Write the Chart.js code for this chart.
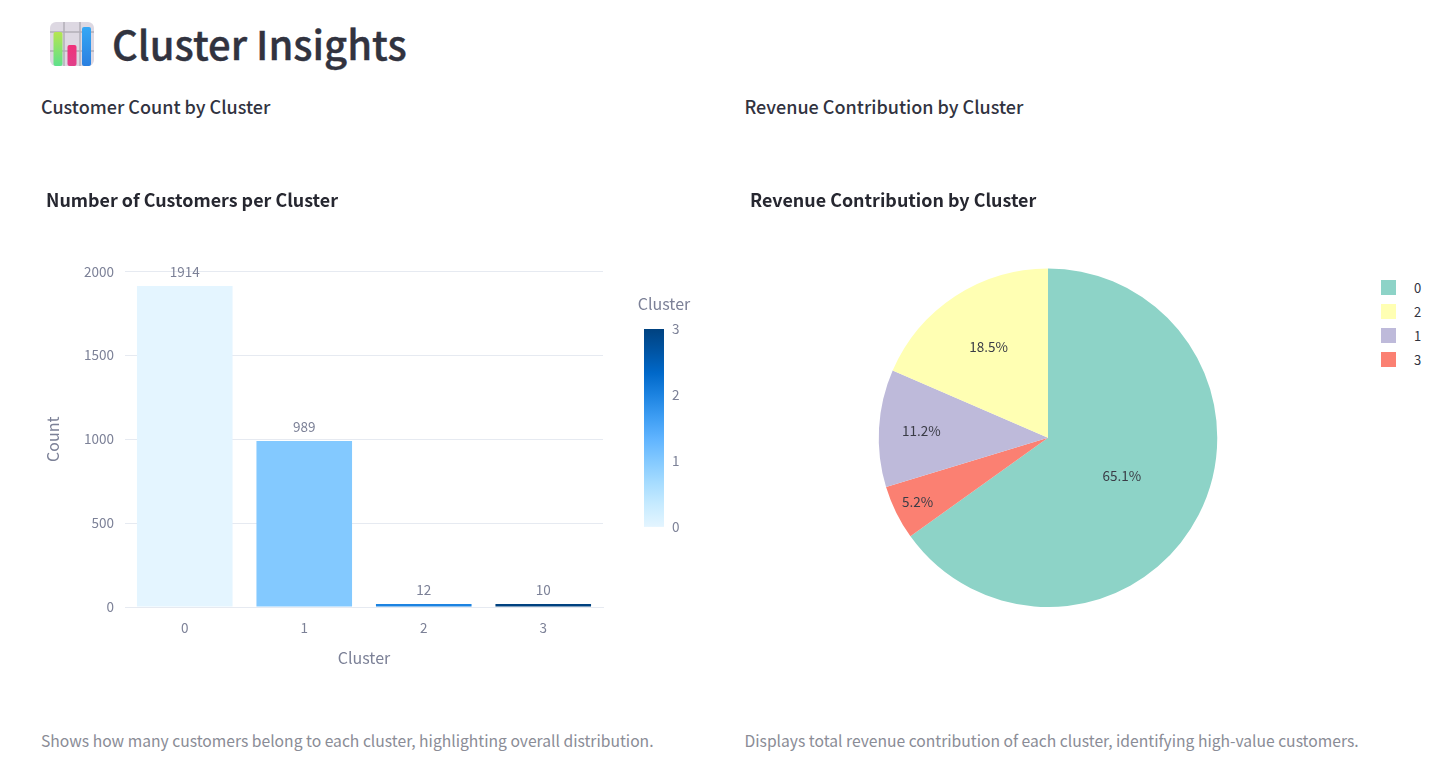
<!DOCTYPE html>
<html>
<head>
<meta charset="utf-8">
<title>Cluster Insights</title>
<script src="https://cdn.jsdelivr.net/npm/chart.js@4"></script>
<style>
  body{margin:0;background:#fff;font-family:"Noto Sans CJK JP","Noto Sans",sans-serif;color:#31333f;overflow:hidden}
  .abs{position:absolute;white-space:nowrap}
  h1{margin:0;font-size:40px;font-weight:500;line-height:56px;-webkit-text-stroke:0.4px #31333f}
  h3{margin:0;font-size:18px;font-weight:500;line-height:24px}
  .cap{font-size:15.67px;line-height:24px;color:#8a8c96}
  canvas{position:absolute}
  #legend{position:absolute;left:1381px;top:275px;font-size:13px}
  .row{display:flex;align-items:center;height:24px;margin-top:0}
  .sw{width:15px;height:15px;margin-right:18px}
</style>
</head>
<body>
<svg class="abs" style="left:50px;top:22px" width="44" height="44" viewBox="0 0 44 44">
  <defs>
    <linearGradient id="g1" x1="0" y1="0" x2="0" y2="1"><stop offset="0" stop-color="#b5e550"/><stop offset="1" stop-color="#5fe08c"/></linearGradient>
    <linearGradient id="g2" x1="0" y1="0" x2="0" y2="1"><stop offset="0" stop-color="#f0307a"/><stop offset="1" stop-color="#e0408a"/></linearGradient>
    <linearGradient id="g3" x1="0" y1="0" x2="0" y2="1"><stop offset="0" stop-color="#35a8f5"/><stop offset="1" stop-color="#2a7fe0"/></linearGradient>
  </defs>
  <rect width="44" height="44" rx="6" fill="#ddd8e2"/>
  <path d="M14 0V44M30 0V44M0 10H44M0 29H44" stroke="#b3aeb8" stroke-width="1.5"/>
  <rect x="3.5" y="10" width="9" height="34" rx="2" fill="url(#g1)"/>
  <rect x="17.5" y="23" width="9" height="21" rx="2" fill="url(#g2)"/>
  <rect x="32" y="5" width="9" height="39" rx="2" fill="url(#g3)"/>
</svg>
<h1 class="abs" style="left:112px;top:15px">Cluster Insights</h1>
<h3 class="abs" style="left:41px;top:94px">Customer Count by Cluster</h3>
<h3 class="abs" style="left:744.5px;top:94px">Revenue Contribution by Cluster</h3>
<canvas id="barChart" style="left:46px;top:189px;width:601px;height:479px"></canvas>
<canvas id="colorBar" style="left:620px;top:290px;width:90px;height:253px"></canvas>
<canvas id="pieChart" style="left:750px;top:189px;width:596px;height:418px"></canvas>
<div id="legend"></div>
<div class="abs cap" style="left:41px;top:729px">Shows how many customers belong to each cluster, highlighting overall distribution.</div>
<div class="abs cap" style="left:744.5px;top:729px">Displays total revenue contribution of each cluster, identifying high-value customers.</div>
<script>
const FONT = '"Noto Sans CJK JP","Noto Sans",sans-serif';
const AXIS = "#7c8197";
const GRID = "#e6eaf1";

const clusters = ["0", "1", "2", "3"];
const customerCounts = [1914, 989, 12, 10];
const barColors = ["#e4f5ff", "#83c9ff", "#1c83e1", "#004280"];
const yTicks = [0, 500, 1000, 1500, 2000];

const colorTicks = [0, 1, 2, 3];
const colorScale = ["#e4f5ff", "#c7ebff", "#a6dcff", "#83c9ff", "#60b4ff", "#3d9df3", "#1c83e1", "#0068c9", "#0054a3", "#004280"];

const pieLabels = ["0", "3", "1", "2"];
const pieShares = [65.1, 5.2, 11.2, 18.5];
const pieColors = ["#8dd3c7", "#fb8072", "#bebada", "#ffffb3"];
const labelRadius = [0.49, 0.86, 0.75, 0.64];
const legendOrder = ["0", "2", "1", "3"];

Chart.defaults.font.family = FONT;
Chart.defaults.animation = false;
Chart.defaults.responsive = false;
Chart.defaults.devicePixelRatio = 1;

function sizeCanvas(id){
  const c = document.getElementById(id);
  c.width = parseInt(c.style.width);
  c.height = parseInt(c.style.height);
  return c;
}

// count labels above the bars
const barLabels = {
  id: "barLabels",
  afterDatasetsDraw(chart){
    const ctx = chart.ctx;
    const meta = chart.getDatasetMeta(0);
    ctx.save();
    ctx.font = "13.5px " + FONT;
    ctx.fillStyle = AXIS;
    ctx.textAlign = "center";
    ctx.textBaseline = "middle";
    meta.data.forEach((bar, i)=>{
      ctx.fillText(customerCounts[i], bar.x, bar.y - 14);
    });
    ctx.restore();
  }
};

new Chart(sizeCanvas("barChart"), {
  type: "bar",
  data: {
    labels: clusters,
    datasets: [{ data: customerCounts, backgroundColor: barColors, categoryPercentage: 0.8, barPercentage: 1, minBarLength: 3 }]
  },
  options: {
    layout: { padding: { left: 0, right: 44 } },
    plugins: {
      legend: { display: false },
      tooltip: { enabled: false },
      title: {
        display: true,
        text: "Number of Customers per Cluster",
        align: "start",
        color: "#262730",
        font: { size: 17.9, weight: "bold" },
        padding: { top: 0, bottom: 61 }
      }
    },
    scales: {
      x: {
        grid: { display: false },
        border: { color: GRID },
        ticks: { color: AXIS, font: { size: 13.5 }, padding: 5 },
        title: { display: true, text: "Cluster", color: AXIS, font: { size: 16 }, padding: { top: 12, bottom: 0 } },
        afterFit(s){ s.height = 61; }
      },
      y: {
        min: 0,
        max: 2000,
        afterBuildTicks(s){ s.ticks = yTicks.map(v=>({ value: v })); },
        grid: { color: GRID, drawTicks: false },
        border: { display: false },
        ticks: { color: AXIS, font: { size: 13.5 }, padding: 11, callback: v=>String(v) },
        title: { display: true, text: "Count", color: AXIS, font: { size: 16 }, padding: { top: -3, bottom: 0 } },
        afterFit(s){ s.width = 79; }
      }
    }
  },
  plugins: [barLabels]
});

// colorbar: gradient painted over a plain linear axis
const gradientFill = {
  id: "gradientFill",
  beforeDraw(chart){
    const { ctx, chartArea: a } = chart;
    const g = ctx.createLinearGradient(0, a.bottom, 0, a.top);
    colorScale.forEach((c, i)=> g.addColorStop(i / (colorScale.length - 1), c));
    ctx.fillStyle = g;
    ctx.fillRect(a.left, a.top, a.right - a.left, a.bottom - a.top);
    ctx.fillStyle = AXIS;
    ctx.font = "16px " + FONT;
    ctx.textAlign = "center";
    ctx.fillText("Cluster", 44, 20);
  }
};

new Chart(sizeCanvas("colorBar"), {
  type: "bar",
  data: { labels: [""], datasets: [{ data: [], yAxisID: "c" }] },
  options: {
    layout: { padding: { left: 24, right: 0, top: 39, bottom: 10 } },
    plugins: { legend: { display: false }, tooltip: { enabled: false } },
    scales: {
      x: { display: false },
      c: {
        position: "right",
        min: 0,
        max: 3,
        afterBuildTicks(s){ s.ticks = colorTicks.map(v=>({ value: v })); },
        grid: { display: false, drawTicks: false },
        border: { display: false },
        ticks: { color: AXIS, font: { size: 13.5 }, padding: 8, callback: v=>String(v) },
        afterFit(s){ s.width = 46; }
      }
    }
  },
  plugins: [gradientFill]
});

// percentage labels inside the slices
const sliceLabels = {
  id: "sliceLabels",
  afterDatasetsDraw(chart){
    const ctx = chart.ctx;
    ctx.save();
    ctx.font = "13.5px " + FONT;
    ctx.fillStyle = "#3a3c46";
    ctx.textAlign = "center";
    ctx.textBaseline = "middle";
    chart.getDatasetMeta(0).data.forEach((arc, i)=>{
      const mid = (arc.startAngle + arc.endAngle) / 2;
      const r = arc.outerRadius * labelRadius[i];
      ctx.fillText(pieShares[i].toFixed(1) + "%", arc.x + Math.cos(mid) * r, arc.y + Math.sin(mid) * r);
    });
    ctx.restore();
  }
};

new Chart(sizeCanvas("pieChart"), {
  type: "pie",
  data: {
    labels: pieLabels,
    datasets: [{ data: pieShares, backgroundColor: pieColors, borderWidth: 0 }]
  },
  options: {
    plugins: {
      legend: { display: false },
      tooltip: { enabled: false },
      title: {
        display: true,
        text: "Revenue Contribution by Cluster",
        align: "start",
        color: "#262730",
        font: { size: 17.9, weight: "bold" },
        padding: { top: 0, bottom: 58 }
      }
    }
  },
  plugins: [sliceLabels]
});

const legend = document.getElementById("legend");
legendOrder.forEach(name=>{
  const row = document.createElement("div");
  row.className = "row";
  row.innerHTML = `<span class="sw" style="background:${pieColors[pieLabels.indexOf(name)]}"></span><span>${name}</span>`;
  legend.appendChild(row);
});
</script>
</body>
</html>
